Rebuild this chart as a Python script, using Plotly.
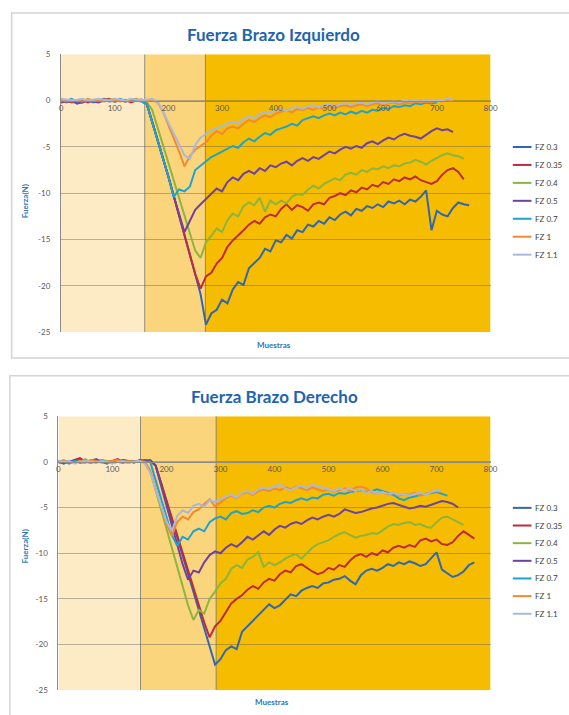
import plotly.graph_objects as go

# ---------------- data ----------------
MUESTRAS = list(range(0, 780, 10))          # sample index grid (every 10 samples)
SERIES = ["FZ 0.3", "FZ 0.35", "FZ 0.4", "FZ 0.5", "FZ 0.7", "FZ 1", "FZ 1.1"]
COLORS = ["#3266B0", "#BE2B3C", "#8CB43F", "#6E42A0", "#1FA3CC", "#F28A30", "#AAB8DC"]

X_TICKS = [0, 100, 200, 300, 400, 500, 600, 700, 800]
Y_TICKS = [5, 0, -5, -10, -15, -20, -25]
Y_TICK_TEXT = ["5", "0", "-5", "-10", "-15", "-20", "-25"]

# shaded phases (sample limits)
FASES_IZQ = [0, 156, 269, 800]
FASES_DER = [0, 152, 292, 800]
FASE_COLORES = ["#FDEBC6", "#FBD57C", "#F6BC00"]

# --- Fuerza Brazo Izquierdo ---
IZQ_FZ03 = [0.1, -0.2, 0.0, -0.3, -0.1, 0.1, -0.2, 0.0, 0.2, -0.1, 0.0, 0.1, -0.1, 0.0, 0.1, 0.0,
            -0.4, -2.3, -4.2, -6.1, -8.2, -10.3, -12.4, -14.5, -16.6, -18.7, -20.9, -24.2,
            -23.0, -22.6, -21.5, -21.9, -20.4, -19.6, -19.9, -18.1, -17.5, -17.0, -16.0, -16.3,
            -15.1, -15.3, -14.5, -14.9, -14.0, -14.2, -13.4, -13.6, -13.0, -13.3,
            -12.6, -12.9, -12.3, -12.0, -12.4, -11.7, -11.9, -11.4, -11.6, -11.2,
            -11.5, -10.9, -11.1, -10.8, -11.2, -10.7, -10.9, -10.4, -9.7, -14.0,
            -11.9, -12.3, -12.5, -11.6, -11.0, -11.2, -11.3]
IZQ_FZ035 = [-0.1, 0.0, -0.2, -0.1, 0.1, -0.2, 0.0, -0.1, 0.1, 0.2, -0.1, 0.0, 0.1, -0.2, 0.0, 0.1,
             -0.4, -2.3, -4.2, -6.1, -8.2, -10.3, -12.4, -14.5, -16.6, -18.7, -20.3,
             -19.0, -18.6, -17.6, -17.0, -15.8, -15.1, -14.6, -14.0, -13.4, -13.0, -13.3, -12.6,
             -12.3, -12.5, -11.7, -11.2, -11.8, -11.3, -11.5, -11.9, -11.2, -11.0, -11.2,
             -10.5, -10.3, -10.0, -10.2, -9.7, -9.9, -9.4, -9.6, -9.1, -9.3,
             -8.8, -9.0, -8.5, -8.7, -8.3, -8.5, -8.2, -8.6, -8.8, -9.0,
             -8.7, -8.0, -7.5, -7.3, -7.7, -8.5]
IZQ_FZ04 = [0.0, 0.1, -0.1, 0.0, -0.2, 0.1, 0.0, -0.1, 0.0, 0.1, 0.2, -0.1, 0.0, 0.1, 0.0, 0.0,
            -0.2, -1.0, -2.9, -4.8, -6.7, -8.6, -10.5, -12.4, -14.3, -16.2, -17.0,
            -15.3, -14.6, -13.8, -14.2, -12.9, -12.2, -12.5, -11.4, -11.0, -11.3, -10.5, -12.0,
            -10.8, -11.2, -10.8, -11.1, -10.4, -10.1, -10.2, -9.6, -9.2, -9.5, -9.0,
            -8.7, -8.4, -8.6, -8.0, -7.8, -8.0, -7.5, -7.7, -7.3, -7.4,
            -7.1, -7.3, -7.0, -7.1, -6.8, -6.7, -6.4, -6.6, -6.9, -6.5,
            -6.2, -5.9, -5.7, -5.9, -6.0, -6.3]
IZQ_FZ05 = [-0.2, -0.1, 0.0, -0.3, -0.2, 0.0, -0.1, -0.2, 0.0, 0.1, -0.1, 0.0, -0.1, 0.1, 0.0, 0.0,
            -0.4, -2.3, -4.2, -6.1, -8.2, -10.3, -12.4, -14.2,
            -13.0, -11.8, -11.2, -10.6, -10.0, -9.5, -9.8, -8.8, -8.3, -8.6, -7.9, -7.6, -7.9,
            -7.3, -7.6, -7.0, -7.2, -6.8, -6.6, -7.0, -6.5, -6.2, -6.5, -6.1, -6.3, -5.9,
            -5.5, -5.7, -5.3, -5.0, -5.2, -4.9, -5.1, -4.6, -4.4, -4.7,
            -4.3, -4.0, -4.2, -3.8, -3.6, -3.8, -3.9, -4.1, -3.7, -3.3,
            -3.0, -3.2, -3.1, -3.4]
IZQ_FZ07 = [0.1, 0.0, 0.2, -0.1, 0.0, 0.1, -0.1, 0.0, 0.1, 0.0, -0.1, 0.2, 0.0, 0.1, 0.0, -0.1,
            -0.4, -2.3, -4.2, -6.1, -8.2, -10.4, -9.6, -9.8, -9.3,
            -7.5, -7.0, -6.5, -6.1, -5.8, -5.5, -5.2, -4.9, -5.1, -4.5, -4.1, -4.4, -3.9,
            -3.5, -3.7, -3.2, -3.0, -2.8, -2.5, -2.7, -2.1, -1.9, -1.7, -1.9, -1.6,
            -1.4, -1.6, -1.3, -1.5, -1.2, -1.4, -1.1, -1.3, -1.0, -1.1,
            -0.8, -0.9, -0.6, -0.7, -0.5, -0.6, -0.3, -0.4, -0.2, -0.3, -0.2]
IZQ_FZ1 = [0.0, -0.1, 0.1, 0.0, -0.1, 0.2, 0.0, 0.1, -0.1, 0.0, 0.1, 0.0, -0.1, 0.1, 0.2, 0.0,
           0.0, 0.1, -0.2, -1.2, -2.6, -4.0, -5.5, -7.1, -6.0, -5.3, -4.9, -4.5, -3.8, -3.3,
           -3.6, -3.0, -2.8, -3.0, -2.5, -2.1, -2.3, -1.9, -1.6, -1.8,
           -1.4, -1.2, -1.0, -1.3, -0.9, -1.0, -0.8, -1.0, -0.7, -0.9,
           -0.6, -0.8, -0.6, -0.5, -0.7, -0.5, -0.4, -0.6, -0.4, -0.3,
           -0.5, -0.3, -0.2, -0.4, -0.2, -0.3, -0.1, -0.2, -0.1, -0.2,
           0.0, -0.1, 0.1, 0.0]
IZQ_FZ11 = [0.2, 0.1, 0.0, 0.1, 0.2, 0.0, 0.1, 0.2, 0.1, 0.0, 0.2, 0.1, 0.0, 0.2, 0.1, 0.1,
            0.1, 0.2, -0.1, -1.2, -2.4, -3.6, -4.8, -5.9, -6.3, -4.8, -4.0, -3.6, -3.2, -3.0,
            -2.8, -2.5, -2.3, -2.5, -2.0, -1.7, -1.9, -1.5, -1.2, -1.3,
            -1.0, -0.9, -1.1, -0.8, -0.7, -0.9, -0.6, -0.5, -0.7, -0.5,
            -0.4, -0.6, -0.4, -0.3, -0.4, -0.3, -0.2, -0.4, -0.2, -0.1,
            -0.3, -0.2, -0.1, -0.2, 0.0, -0.1, 0.0, -0.1, 0.1, 0.0,
            0.1, 0.0, 0.2, 0.1]

# --- Fuerza Brazo Derecho ---
DER_FZ03 = [0.0, -0.2, 0.1, -0.1, 0.2, 0.0, -0.1, 0.1, 0.0, -0.2, 0.1, 0.0, -0.1, 0.1, 0.0, 0.1, 0.2, 0.1,
            -0.4, -2.3, -4.3, -6.3, -8.3, -10.2, -12.2, -14.2, -16.2, -18.2, -20.2, -22.2,
            -21.6, -20.6, -20.2, -20.5, -18.6, -18.0, -17.4, -16.7, -16.1, -15.6,
            -16.0, -15.7, -15.1, -14.5, -14.7, -14.1, -13.8, -13.6, -13.8, -13.3,
            -13.2, -12.9, -12.8, -12.5, -13.0, -13.4, -12.4, -11.9, -11.7, -11.9,
            -11.6, -11.2, -11.4, -11.0, -11.2, -10.9, -11.1, -11.4, -11.2, -10.6,
            -9.9, -11.8, -12.2, -12.6, -12.4, -12.0, -11.3, -11.0]
DER_FZ035 = [0.1, 0.0, -0.1, 0.2, 0.4, 0.0, 0.1, -0.1, 0.2, 0.0, 0.1, 0.3, 0.0, 0.1, -0.1, 0.2, 0.1, 0.2,
             -0.4, -2.3, -4.2, -6.1, -8.0, -10.0, -11.9, -13.8, -15.7, -17.6, -19.2, -18.0,
             -17.4, -16.5, -15.5, -15.0, -14.6, -14.0, -13.6, -13.9, -13.2, -12.8,
             -13.0, -12.3, -11.9, -12.1, -11.4, -11.2, -11.6, -12.0, -12.3, -12.1,
             -11.6, -11.8, -11.3, -11.5, -10.8, -10.3, -10.1, -10.4, -10.0, -10.2,
             -9.7, -9.9, -9.4, -9.2, -9.4, -9.1, -9.3, -8.6, -8.4, -8.7,
             -8.5, -9.0, -9.1, -8.8, -8.1, -7.6, -8.0, -8.4]
DER_FZ04 = [0.0, 0.2, -0.1, 0.1, 0.0, 0.3, -0.1, 0.0, 0.2, 0.1, -0.1, 0.0, 0.2, 0.0, 0.1, 0.0,
            0.0, -1.0, -3.1, -5.2, -7.3, -9.4, -11.5, -13.6, -15.7, -17.3, -16.2, -16.6, -15.0, -14.2,
            -13.3, -12.8, -11.7, -11.3, -11.6, -10.7, -10.4, -9.9, -11.5, -11.0,
            -11.3, -11.0, -10.6, -10.3, -10.1, -10.6, -10.0, -9.4, -9.0, -8.8,
            -8.6, -8.2, -7.9, -7.7, -8.0, -8.3, -8.1, -8.0, -7.8, -7.9,
            -7.5, -7.1, -6.8, -6.9, -6.7, -6.6, -6.9, -6.8, -7.1, -7.2,
            -6.6, -6.1, -6.0, -6.3, -6.6, -6.9]
DER_FZ05 = [-0.1, 0.1, 0.0, 0.2, -0.1, 0.0, 0.1, 0.3, 0.0, -0.1, 0.1, 0.0, 0.2, 0.1, 0.0, 0.1, 0.0, 0.1,
            -0.4, -2.6, -4.7, -6.9, -9.0, -11.2, -12.9, -11.9, -12.1, -11.0, -10.2, -9.8,
            -10.0, -9.4, -9.0, -9.3, -8.8, -8.2, -8.5, -8.0, -7.6, -8.0,
            -7.4, -7.0, -7.2, -6.8, -6.6, -6.8, -6.4, -6.1, -6.3, -6.0,
            -5.8, -6.0, -5.7, -5.2, -5.4, -5.6, -5.5, -5.3, -5.1, -5.0,
            -4.8, -4.6, -4.5, -4.7, -4.9, -5.1, -5.0, -4.8, -4.9, -4.7,
            -4.5, -4.3, -4.4, -4.6, -5.0]
DER_FZ07 = [0.1, 0.0, -0.2, 0.1, 0.0, -0.1, 0.2, 0.0, 0.1, -0.1, 0.0, 0.1, 0.0, -0.1, 0.1, 0.0, 0.0,
            0.0, -2.0, -4.0, -6.0, -8.0, -9.2, -8.2, -8.5, -7.6, -7.3, -7.6, -6.6, -6.2,
            -6.0, -6.3, -5.6, -5.4, -5.7, -5.6, -5.3, -5.5, -5.0, -4.8,
            -5.0, -4.6, -4.4, -4.5, -4.2, -4.0, -4.2, -3.9, -4.0, -3.6,
            -3.5, -3.7, -3.4, -3.5, -3.3, -3.2, -3.1, -3.3, -3.2, -3.0,
            -3.2, -3.4, -3.6, -4.0, -4.2, -3.9, -3.8, -3.6, -3.5, -3.4,
            -3.3, -3.5, -3.7]
DER_FZ1 = [0.0, 0.1, 0.0, -0.1, 0.1, 0.0, 0.2, 0.1, -0.1, 0.0, 0.1, 0.2, 0.0, 0.1, 0.0, 0.1, 0.0,
           -1.0, -2.9, -4.9, -6.8, -8.1, -6.6, -6.0, -6.3, -5.5, -5.2, -4.6, -4.1, -4.9,
           -4.4, -4.0, -3.7, -4.0, -3.5, -3.3, -3.6, -3.2, -3.0, -3.2,
           -2.9, -3.1, -2.8, -3.0, -2.7, -2.9, -3.1, -2.8, -3.0, -3.2,
           -3.0, -3.3, -3.1, -2.9, -3.2, -2.8, -2.7, -2.9, -3.3, -3.5,
           -3.3, -3.6, -3.4, -3.7, -3.5, -3.6, -3.4, -3.7, -3.5, -3.3,
           -3.2, -3.3]
DER_FZ11 = [0.1, 0.0, 0.1, -0.2, 0.0, 0.1, 0.0, -0.1, 0.1, 0.0, -0.2, 0.0, 0.1, -0.1, 0.0, 0.1, -0.2,
            -1.2, -3.0, -4.8, -6.5, -7.6, -5.9, -5.3, -5.6, -4.8, -4.6, -4.9, -4.2, -4.4,
            -4.1, -3.8, -3.6, -3.9, -3.4, -3.2, -3.5, -3.0, -2.8, -3.0,
            -2.7, -2.5, -2.9, -3.1, -2.8, -2.6, -2.9, -2.5, -2.7, -2.8,
            -3.0, -3.2, -2.9, -3.1, -2.9, -3.2, -3.0, -3.4, -3.2, -3.5,
            -3.3, -3.5, -3.4, -3.6, -3.5, -3.7, -3.5, -3.4, -3.6, -3.3,
            -3.1, -3.2]

IZQ = [IZQ_FZ03, IZQ_FZ035, IZQ_FZ04, IZQ_FZ05, IZQ_FZ07, IZQ_FZ1, IZQ_FZ11]
DER = [DER_FZ03, DER_FZ035, DER_FZ04, DER_FZ05, DER_FZ07, DER_FZ1, DER_FZ11]

TITULOS = ["Fuerza Brazo Izquierdo", "Fuerza Brazo Derecho"]

# ---------------- layout geometry (pixels of the 569x715 page) ----------------
W, H = 569, 715
def px(x):
    return x / W
def py(y):
    return 1 - y / H

FONT = "Lato, 'Open Sans', sans-serif"
TITLE_BLUE = "#1E64B0"
AXIS_BLUE = "#2E75B6"
TICK_GRAY = "#595959"
GRID = "rgba(90,90,90,0.42)"

panels = [
    dict(xd=[px(59.9), px(496.4)], yd=[py(331.7), py(50)], fases=FASES_IZQ, data=IZQ,
         title_xy=(276, 30), ytitle_xy=(23.5, 199), xtitle_xy=(276, 345),
         legend_y0=144, legend_dy=18.2, box=(9.8, 8, 600, 358)),
    dict(xd=[px(57.3), px(496.4)], yd=[py(695), py(417)], fases=FASES_DER, data=DER,
         title_xy=(277, 397), ytitle_xy=(23.5, 549), xtitle_xy=(274, 707),
         legend_y0=510, legend_dy=17.9, box=(8, 376, 600, 760)),
]

fig = go.Figure()
shapes = []
annotations = []
layout = {}

for i, p in enumerate(panels):
    sfx = "" if i == 0 else str(i + 1)
    xa, ya = "x" + sfx, "y" + sfx
    for j, (name, color, vals) in enumerate(zip(SERIES, COLORS, p["data"])):
        fig.add_trace(go.Scatter(
            x=MUESTRAS[:len(vals)], y=vals, name=name, mode="lines",
            line=dict(color=color, width=2), xaxis=xa, yaxis=ya, showlegend=False,
        ))
        # legend entry (key line + label)
        ly = p["legend_y0"] + j * p["legend_dy"]
        shapes.append(dict(type="line", xref="paper", yref="paper",
                           x0=px(519), x1=px(538), y0=py(ly), y1=py(ly),
                           line=dict(color=color, width=2)))
        annotations.append(dict(text=name, x=px(540), y=py(ly), xref="paper", yref="paper",
                                showarrow=False, xanchor="left", yanchor="middle",
                                font=dict(family=FONT, size=8, color="#404040")))
    ymin, ymax = -25, 5
    y0_paper = p["yd"][0] + (0 - ymin) / (ymax - ymin) * (p["yd"][1] - p["yd"][0])
    layout["xaxis" + sfx] = dict(
        domain=p["xd"], range=[0, 800], tickvals=X_TICKS, showgrid=False,
        zeroline=False, anchor="free", position=y0_paper, showline=True,
        linecolor="#8C8C8C", linewidth=1, ticks="",
        tickfont=dict(family=FONT, size=8, color=TICK_GRAY),
    )
    layout["yaxis" + sfx] = dict(
        domain=p["yd"], range=[ymin, ymax], tickvals=Y_TICKS, ticktext=Y_TICK_TEXT,
        showgrid=True, gridcolor=GRID, gridwidth=1, zeroline=False,
        showline=True, linecolor="#8C8C8C", linewidth=1, anchor=xa,
        ticklabelstandoff=8,
        tickfont=dict(family=FONT, size=8, color=TICK_GRAY),
    )
    f = p["fases"]
    for k in range(3):
        shapes.append(dict(type="rect", xref=xa, yref=ya, x0=f[k], x1=f[k + 1],
                           y0=ymin, y1=ymax, fillcolor=FASE_COLORES[k],
                           line=dict(width=0), layer="below"))
    for k in (1, 2):
        shapes.append(dict(type="line", xref=xa, yref=ya, x0=f[k], x1=f[k],
                           y0=ymin, y1=ymax, line=dict(color="rgba(110,110,110,0.75)", width=1),
                           layer="below"))
    bx0, by0, bx1, by1 = p["box"]
    shapes.append(dict(type="rect", xref="paper", yref="paper",
                       x0=px(bx0), x1=px(bx1), y0=py(by1), y1=py(by0),
                       line=dict(color="#D4D4D4", width=1.5), fillcolor="rgba(0,0,0,0)",
                       layer="below"))
    tx, ty = p["title_xy"]
    annotations.append(dict(text="<b>%s</b>" % TITULOS[i], x=px(tx), y=py(ty),
                            xref="paper", yref="paper", showarrow=False,
                            xanchor="center", yanchor="middle",
                            font=dict(family=FONT, size=17, color=TITLE_BLUE)))
    yx, yy = p["ytitle_xy"]
    annotations.append(dict(text="<b>Fuerza(N)</b>", x=px(yx), y=py(yy),
                            xref="paper", yref="paper", showarrow=False, textangle=-90,
                            xanchor="center", yanchor="middle",
                            font=dict(family=FONT, size=8, color=AXIS_BLUE)))
    mx, my = p["xtitle_xy"]
    annotations.append(dict(text="<b>Muestras</b>", x=px(mx), y=py(my),
                            xref="paper", yref="paper", showarrow=False,
                            xanchor="center", yanchor="middle",
                            font=dict(family=FONT, size=8, color=AXIS_BLUE)))

fig.update_layout(
    width=W, height=H, autosize=False,
    margin=dict(l=0, r=0, t=0, b=0),
    paper_bgcolor="white", plot_bgcolor="rgba(0,0,0,0)",
    shapes=shapes, annotations=annotations, hovermode=False, **layout,
)

fig.write_html("out.html", config={"displayModeBar": False},
               post_script="document.body.style.margin='0';document.body.style.overflow='hidden';")
